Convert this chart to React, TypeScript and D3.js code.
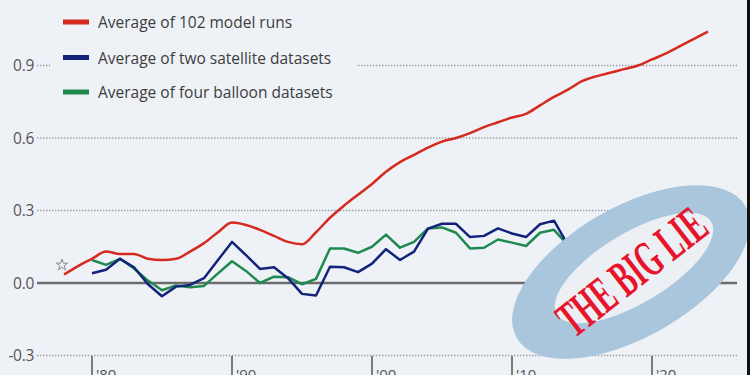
import React from "react";
import * as d3 from "d3";

const modelYears = [1978,1979,1980,1981,1982,1983,1984,1985,1986,1987,1988,1989,1990,1991,1992,1993,1994,1995,1996,1997,1998,1999,2000,2001,2002,2003,2004,2005,2006,2007,2008,2009,2010,2011,2012,2013,2014,2015,2016,2017,2018,2019,2020,2021,2022,2023,2024];
const modelRuns = [0.035,0.07,0.10,0.13,0.12,0.12,0.10,0.095,0.10,0.13,0.165,0.21,0.25,0.24,0.22,0.195,0.17,0.16,0.21,0.27,0.32,0.365,0.41,0.46,0.50,0.53,0.56,0.585,0.60,0.62,0.645,0.665,0.685,0.70,0.735,0.77,0.80,0.835,0.855,0.87,0.885,0.90,0.925,0.95,0.98,1.01,1.04];

const obsYears = [1980,1981,1982,1983,1984,1985,1986,1987,1988,1989,1990,1991,1992,1993,1994,1995,1996,1997,1998,1999,2000,2001,2002,2003,2004,2005,2006,2007,2008,2009,2010,2011,2012,2013,2014];
const satellite = [0.04,0.055,0.10,0.065,-0.005,-0.055,-0.015,-0.008,0.02,0.095,0.17,0.115,0.058,0.065,0.02,-0.045,-0.052,0.067,0.065,0.045,0.08,0.14,0.095,0.13,0.225,0.245,0.245,0.19,0.195,0.226,0.205,0.19,0.243,0.258,0.157];
const balloon = [0.095,0.075,0.10,0.06,0.01,-0.03,-0.01,-0.018,-0.012,0.04,0.09,0.05,0.0,0.026,0.024,-0.005,0.017,0.143,0.143,0.125,0.15,0.20,0.146,0.17,0.226,0.23,0.208,0.143,0.146,0.18,0.167,0.153,0.208,0.22,0.157];

const yTicks = [1.2, 0.9, 0.6, 0.3, 0.0, -0.3];
const yTickLabels = ["1.2", "0.9", "0.6", "0.3", "0.0", "-0.3"];
const xTicks = [1980, 1990, 2000, 2010, 2020];
const xTickLabels = ["'80", "'90", "'00", "'10", "'20"];

const legendLabels = ["Average of 102 model runs", "Average of two satellite datasets", "Average of four balloon datasets"];
const seriesColors = ["#d42a1f", "#13237a", "#1e8a50"];
const stampText = "THE BIG LIE";

const W = 750, H = 375;
const BG = "#eef2f7";

export default function App() {
  const x = d3.scaleLinear().domain([1980, 2020]).range([92, 652]);
  const y = d3.scaleLinear().domain([0, 0.9]).range([283, 65.5]);

  const redLine = d3.line<number>().x((_, i) => x(modelYears[i])).y(d => y(d)).curve(d3.curveMonotoneX);
  const obsLine = d3.line<number>().x((_, i) => x(obsYears[i])).y(d => y(d));

  const gridX0 = 37, gridX1 = 737;
  const star = d3.symbol().type(d3.symbolStar).size(40)();

  const legendY = [22, 57.5, 92];

  const cx = 631, cy = 272;

  return (
    <svg width={W} height={H} style={{ position: "fixed", left: 0, top: 0 }} fontFamily="'Open Sans', sans-serif">
      <rect x={0} y={0} width={W} height={H} fill={BG} />
      {yTicks.map((t, i) => (
        t === 0 ? null : (
          <line key={"g" + i} x1={gridX0} x2={gridX1} y1={y(t)} y2={y(t)} stroke="#9a9ea6" strokeWidth={1.4} strokeDasharray="1.4,1.6" />
        )
      ))}
      {yTicks.map((t, i) => (
        <text key={"yl" + i} x={34} y={y(t) + 5.5} textAnchor="end" fontSize={15.5} fill="#555" letterSpacing={-0.3}>{yTickLabels[i]}</text>
      ))}
      {xTicks.map((t, i) => (
        <g key={"xt" + i}>
          <line x1={x(t)} x2={x(t)} y1={356} y2={H} stroke="#555" strokeWidth={1.5} />
          <text x={x(t) + 4} y={380} fontSize={15} fill="#555">{xTickLabels[i]}</text>
        </g>
      ))}
      <line x1={gridX0} x2={gridX1} y1={y(0)} y2={y(0)} stroke="#6b6b6b" strokeWidth={2.5} />

      <rect x={50} y={45} width={306} height={62} fill={BG} />
      {legendLabels.map((l, i) => (
        <g key={"lg" + i}>
          <rect x={63} y={legendY[i] - 2.5} width={26} height={5} fill={seriesColors[i]} />
          <text x={98} y={legendY[i] + 6} fontSize={15.5} fill="#3d3d3d">{l}</text>
        </g>
      ))}

      <path d={star as string} transform={`translate(62,265)`} fill="none" stroke="#8a8a8a" strokeWidth={1} />

      <path d={obsLine(balloon) as string} fill="none" stroke={seriesColors[2]} strokeWidth={2.5} strokeLinejoin="round" />
      <path d={obsLine(satellite) as string} fill="none" stroke={seriesColors[1]} strokeWidth={2.5} strokeLinejoin="round" />
      <path d={redLine(modelRuns) as string} fill="none" stroke={seriesColors[0]} strokeWidth={2.5} strokeLinejoin="round" />

      <g transform={`translate(${cx},${cy}) rotate(-30)`}>
        <ellipse cx={0} cy={0} rx={132} ry={65} fill="#a9c6dc" />
      </g>
      <g transform={`translate(634,268) rotate(-31)`}>
        <ellipse cx={0} cy={0} rx={90} ry={35} fill="#eceff3" />
      </g>
      <g transform={`translate(632,272) rotate(-38)`}>
        <text x={0} y={17} textAnchor="middle" fontFamily="'Liberation Serif', serif" fontWeight="bold" fontSize={52} fill="#e8142b" textLength={174} lengthAdjust="spacingAndGlyphs">{stampText}</text>
      </g>

      <rect x={747} y={0} width={3} height={H} fill="#111" />
    </svg>
  );
}
